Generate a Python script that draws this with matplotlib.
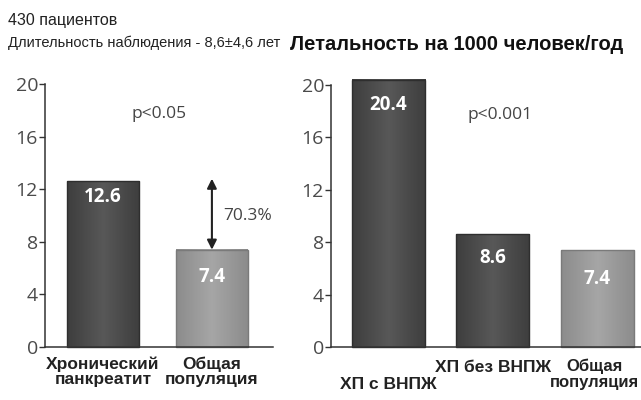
import matplotlib.pyplot as plt
import numpy as np
from matplotlib.colors import LinearSegmentedColormap

plt.rcParams['font.family'] = ['Liberation Sans', 'DejaVu Sans']

# данные
left_cats = ['Хронический\nпанкреатит', 'Общая\nпопуляция']
left_vals = [12.6, 7.4]
right_cats = ['ХП с ВНПЖ', 'ХП без ВНПЖ', 'Общая\nпопуляция']
right_vals = [20.4, 8.6, 7.4]
yticks = [0, 4, 8, 12, 16, 20]

dark_cm = LinearSegmentedColormap.from_list('d', ['#3e3e3e', '#585858', '#3e3e3e'])
light_cm = LinearSegmentedColormap.from_list('l', ['#8c8c8c', '#a6a6a6', '#8c8c8c'])
tick_font = ['Open Sans', 'DejaVu Sans']

fig = plt.figure(figsize=(6.41, 4.0), dpi=100)
ax1 = fig.add_axes([45/641, 1-347/400, (273-45)/641, (347-84)/400])
ax2 = fig.add_axes([331/641, 1-347/400, (641-331)/641, (347-85)/400])


def style(ax):
    ax.set_ylim(0, 20)
    ax.set_yticks(yticks)
    ax.spines['top'].set_visible(False)
    ax.spines['right'].set_visible(False)
    for s in ['left', 'bottom']:
        ax.spines[s].set_color('#333333')
        ax.spines[s].set_linewidth(1.1)
    ax.tick_params(axis='y', length=4, width=1, color='#333333', pad=1,
                   labelsize=14, labelcolor='#4a4a4a')
    ax.tick_params(axis='x', length=0)
    for t in ax.get_yticklabels():
        t.set_family(tick_font)
    ax.set_xticks([])


def gradient_bars(ax, bars, cmaps):
    grad = np.linspace(0, 1, 64).reshape(1, -1)
    for b, cm in zip(bars, cmaps):
        x0, w, h = b.get_x(), b.get_width(), b.get_height()
        ax.imshow(grad, cmap=cm, extent=(x0, x0 + w, 0, h), aspect='auto',
                  zorder=b.get_zorder() + 0.1, clip_on=False)
        b.set_facecolor('none')
        b.set_zorder(b.get_zorder() + 0.2)


# левая панель
x1 = np.arange(len(left_vals))
bars1 = ax1.bar(x1, left_vals, width=0.66, edgecolor=['#2e2e2e', '#7a7a7a'],
                linewidth=1, clip_on=False)
ax1.set_xlim(-0.53, 1.56)
gradient_bars(ax1, bars1, [dark_cm, light_cm])
style(ax1)
offs1 = [1.2, 2.1]
for i, v in enumerate(left_vals):
    ax1.text(x1[i], v - offs1[i], f'{v:.1f}', ha='center', va='center', color='white',
             fontsize=13.5, fontweight='bold', family=['Open Sans', 'DejaVu Sans'], zorder=5)
for i, c in enumerate(left_cats):
    ax1.text(x1[i], -0.7, c, ha='center', va='top', fontsize=12.5, fontweight='bold',
             color='#222222', linespacing=1.05)
ax1.annotate('', xy=(x1[1], left_vals[0] + 0.2), xytext=(x1[1], left_vals[1]),
             arrowprops=dict(arrowstyle='<|-|>', color='#222222', lw=1.5,
                             mutation_scale=14, shrinkA=0, shrinkB=0))
ax1.text(x1[1] + 0.1, (left_vals[0] + left_vals[1]) / 2, '70.3%', ha='left', va='center',
         fontsize=12.5, color='#444444', family=tick_font)
ax1.text(0.52, 17.7, 'p<0.05', ha='center', va='center', fontsize=12.5,
         color='#444444', family=tick_font)

# правая панель
x2 = np.arange(len(right_vals))
bars2 = ax2.bar(x2, right_vals, width=0.70,
                edgecolor=['#2e2e2e', '#2e2e2e', '#7a7a7a'], linewidth=1, clip_on=False)
ax2.set_xlim(-0.55, 2.42)
gradient_bars(ax2, bars2, [dark_cm, dark_cm, light_cm])
style(ax2)
offs2 = [1.9, 1.8, 2.2]
for i, v in enumerate(right_vals):
    ax2.text(x2[i], v - offs2[i], f'{v:.1f}', ha='center', va='center', color='white',
             fontsize=13.5, fontweight='bold', family=['Open Sans', 'DejaVu Sans'], zorder=5)
ax2.text(x2[0], -2.9, right_cats[0], ha='center', va='center', fontsize=12.5,
         fontweight='bold', color='#222222')
ax2.text(x2[1], -1.6, right_cats[1], ha='center', va='center', fontsize=12.5,
         fontweight='bold', color='#222222')
ax2.text(x2[2] - 0.03, -0.9, right_cats[2], ha='center', va='top', fontsize=12,
         fontweight='bold', color='#222222', linespacing=1.05)
ax2.text(1.07, 17.7, 'p<0.001', ha='center', va='center', fontsize=12.5,
         color='#444444', family=tick_font)

# заголовки
fig.text(8/641, 1-20/400, '430 пациентов', ha='left', va='center', fontsize=11.5,
         color='#222222')
fig.text(8/641, 1-43/400, 'Длительность наблюдения - 8,6±4,6 лет', ha='left',
         va='center', fontsize=10.5, color='#222222')
fig.text(290/641, 1-45/400, 'Летальность на 1000 человек/год', ha='left', va='center',
         fontsize=14.5, fontweight='bold', color='#111111')

fig.savefig('out.png', dpi=100)
